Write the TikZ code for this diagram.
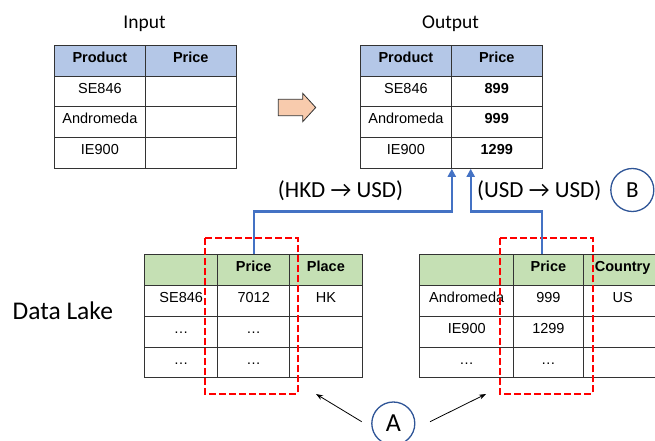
\documentclass[tikz,border=0pt]{standalone}
\usepackage{fontspec}
\setmainfont{Carlito}
\newfontfamily\tabfamily{Liberation Sans}
\usetikzlibrary{arrows.meta}

\definecolor{hblue}{HTML}{B4C7E7}
\definecolor{hgreen}{HTML}{C5E0B4}
\definecolor{connblue}{HTML}{4472C4}
\definecolor{ringblue}{HTML}{2F5597}
\definecolor{grid}{HTML}{333333}
\definecolor{peach}{HTML}{F8CBAD}
\definecolor{dashred}{HTML}{FF0000}

\newcommand{\tabfont}{\tabfamily\fontsize{14.5}{17}\selectfont}

\tikzset{
  cell/.style={draw=grid, line width=0.8pt, inner sep=0pt, anchor=north west,
    minimum height=30.75pt, text height=10pt, text depth=6.6pt, font=\tabfont},
  head/.style={cell, font=\tabfont\bfseries},
  title/.style={anchor=base, inner sep=0pt},
  conn/.style={draw=connblue, line width=2.4pt, -{Triangle[length=8pt,width=8pt]}},
  colbox/.style={draw=dashred, line width=2.3pt, dash pattern=on 7pt off 3pt},
  tag/.style={circle, draw=ringblue, line width=1.3pt, minimum size=43pt, inner sep=0pt, text depth=0pt},
  pointer/.style={draw=black, line width=0.8pt, -{Stealth[length=7pt,width=5pt]}},
}

\begin{document}
\begin{tikzpicture}[x=1pt, y=-1pt]
\clip (0,0) rectangle (655,441);

% ---- titles ----
\node[title, font=\fontsize{19.5}{22}\selectfont] (intitle) at (144.5,29) {Input};
\node[title, font=\fontsize{19.5}{22}\selectfont] (outtitle) at (450.5,29) {Output};

% ---- input table ----
\node[head, fill=hblue, minimum width=91pt]   (in-h1) at (54,45) {Product};
\node[head, fill=hblue, minimum width=90.7pt] (in-h2) at (145,45) {Price};
\node[cell, minimum width=91pt]   (in-11) at (54,75.75)  {SE846};
\node[cell, minimum width=90.7pt] (in-12) at (145,75.75) {};
\node[cell, minimum width=91pt]   (in-21) at (54,106.5)  {Andromeda};
\node[cell, minimum width=90.7pt] (in-22) at (145,106.5) {};
\node[cell, minimum width=91pt]   (in-31) at (54,137.25) {IE900};
\node[cell, minimum width=90.7pt] (in-32) at (145,137.25) {};

% ---- block arrow between the tables ----
\filldraw[fill=peach, draw=grid, line width=0.8pt]
  (278.3,99.3) -- (302.7,99.3) -- (302.7,93.3) -- (315.7,107.5)
  -- (302.7,121.7) -- (302.7,115.7) -- (278.3,115.7) -- cycle;

% ---- output table ----
\node[head, fill=hblue, minimum width=91pt]   (out-h1) at (360,45) {Product};
\node[head, fill=hblue, minimum width=90.7pt] (out-h2) at (451,45) {Price};
\node[cell, minimum width=91pt]   (out-11) at (360,75.75)  {SE846};
\node[head, minimum width=90.7pt] (out-12) at (451,75.75)  {899};
\node[cell, minimum width=91pt]   (out-21) at (360,106.5)  {Andromeda};
\node[head, minimum width=90.7pt] (out-22) at (451,106.5)  {999};
\node[cell, minimum width=91pt]   (out-31) at (360,137.25) {IE900};
\node[head, minimum width=90.7pt] (out-32) at (451,137.25) {1299};

% ---- data lake, left table ----
\node[title, font=\fontsize{25.5}{30}\selectfont] (lake) at (62.8,319.3) {Data Lake};

\node[head, fill=hgreen, minimum width=73pt]   (la-h1) at (144.3,254.3) {};
\node[head, fill=hgreen, minimum width=72pt]   (la-h2) at (217.3,254.3) {Price};
\node[head, fill=hgreen, minimum width=72.4pt] (la-h3) at (289.3,254.3) {Place};
\node[cell, minimum width=73pt]   (la-11) at (144.3,285.05) {SE846};
\node[cell, minimum width=72pt]   (la-12) at (217.3,285.05) {7012};
\node[cell, minimum width=72.4pt] (la-13) at (289.3,285.05) {HK};
\node[cell, minimum width=73pt]   (la-21) at (144.3,315.8) {…};
\node[cell, minimum width=72pt]   (la-22) at (217.3,315.8) {…};
\node[cell, minimum width=72.4pt] (la-23) at (289.3,315.8) {};
\node[cell, minimum width=73pt]   (la-31) at (144.3,346.55) {…};
\node[cell, minimum width=72pt]   (la-32) at (217.3,346.55) {…};
\node[cell, minimum width=72.4pt] (la-33) at (289.3,346.55) {};

% ---- data lake, right table ----
\node[head, fill=hgreen, minimum width=94pt]   (lb-h1) at (419.3,254.3) {};
\node[head, fill=hgreen, minimum width=69.4pt] (lb-h2) at (513.3,254.3) {Price};
\node[head, fill=hgreen, minimum width=79pt]   (lb-h3) at (582.7,254.3) {Country};
\node[cell, minimum width=94pt]   (lb-11) at (419.3,285.05) {Andromeda};
\node[cell, minimum width=69.4pt] (lb-12) at (513.3,285.05) {999};
\node[cell, minimum width=79pt]   (lb-13) at (582.7,285.05) {US};
\node[cell, minimum width=94pt]   (lb-21) at (419.3,315.8) {IE900};
\node[cell, minimum width=69.4pt] (lb-22) at (513.3,315.8) {1299};
\node[cell, minimum width=79pt]   (lb-23) at (582.7,315.8) {};
\node[cell, minimum width=94pt]   (lb-31) at (419.3,346.55) {…};
\node[cell, minimum width=69.4pt] (lb-32) at (513.3,346.55) {…};
\node[cell, minimum width=79pt]   (lb-33) at (582.7,346.55) {};

% ---- matched price columns ----
\draw[colbox] (205,238.3) rectangle (297.7,394);
\draw[colbox] (500,238.3) rectangle (592.7,394);

% ---- price feeds into the output table ----
\draw[conn] (la-h2.north) -- ++(0,-43) -| (out-31.south east);
\draw[conn] ([xshift=-6.3pt]lb-h2.north) -- ++(0,-43) -| ([xshift=19.7pt]out-32.south west);

\node[title, font=\fontsize{23}{27}\selectfont] (hkd) at (340.5,197.7) {(HKD → USD)};
\node[title, font=\fontsize{23}{27}\selectfont] (usd) at (539.2,197.7) {(USD → USD)};

% ---- markers ----
\node[tag, font=\fontsize{23}{27}\selectfont, text height=14.8pt] (B) at (632.3,190) {B};
\node[tag, font=\fontsize{26}{30}\selectfont, text height=16.8pt] (A) at (393.3,423.5) {A};

\coordinate (a-left-start)  at (361.7,421.7);
\coordinate (a-left-tip)    at (316,394);
\coordinate (a-right-start) at (430,421.7);
\coordinate (a-right-tip)   at (486,394);
\draw[pointer] (a-left-start) -- (a-left-tip);
\draw[pointer] (a-right-start) -- (a-right-tip);
\end{tikzpicture}
\end{document}
